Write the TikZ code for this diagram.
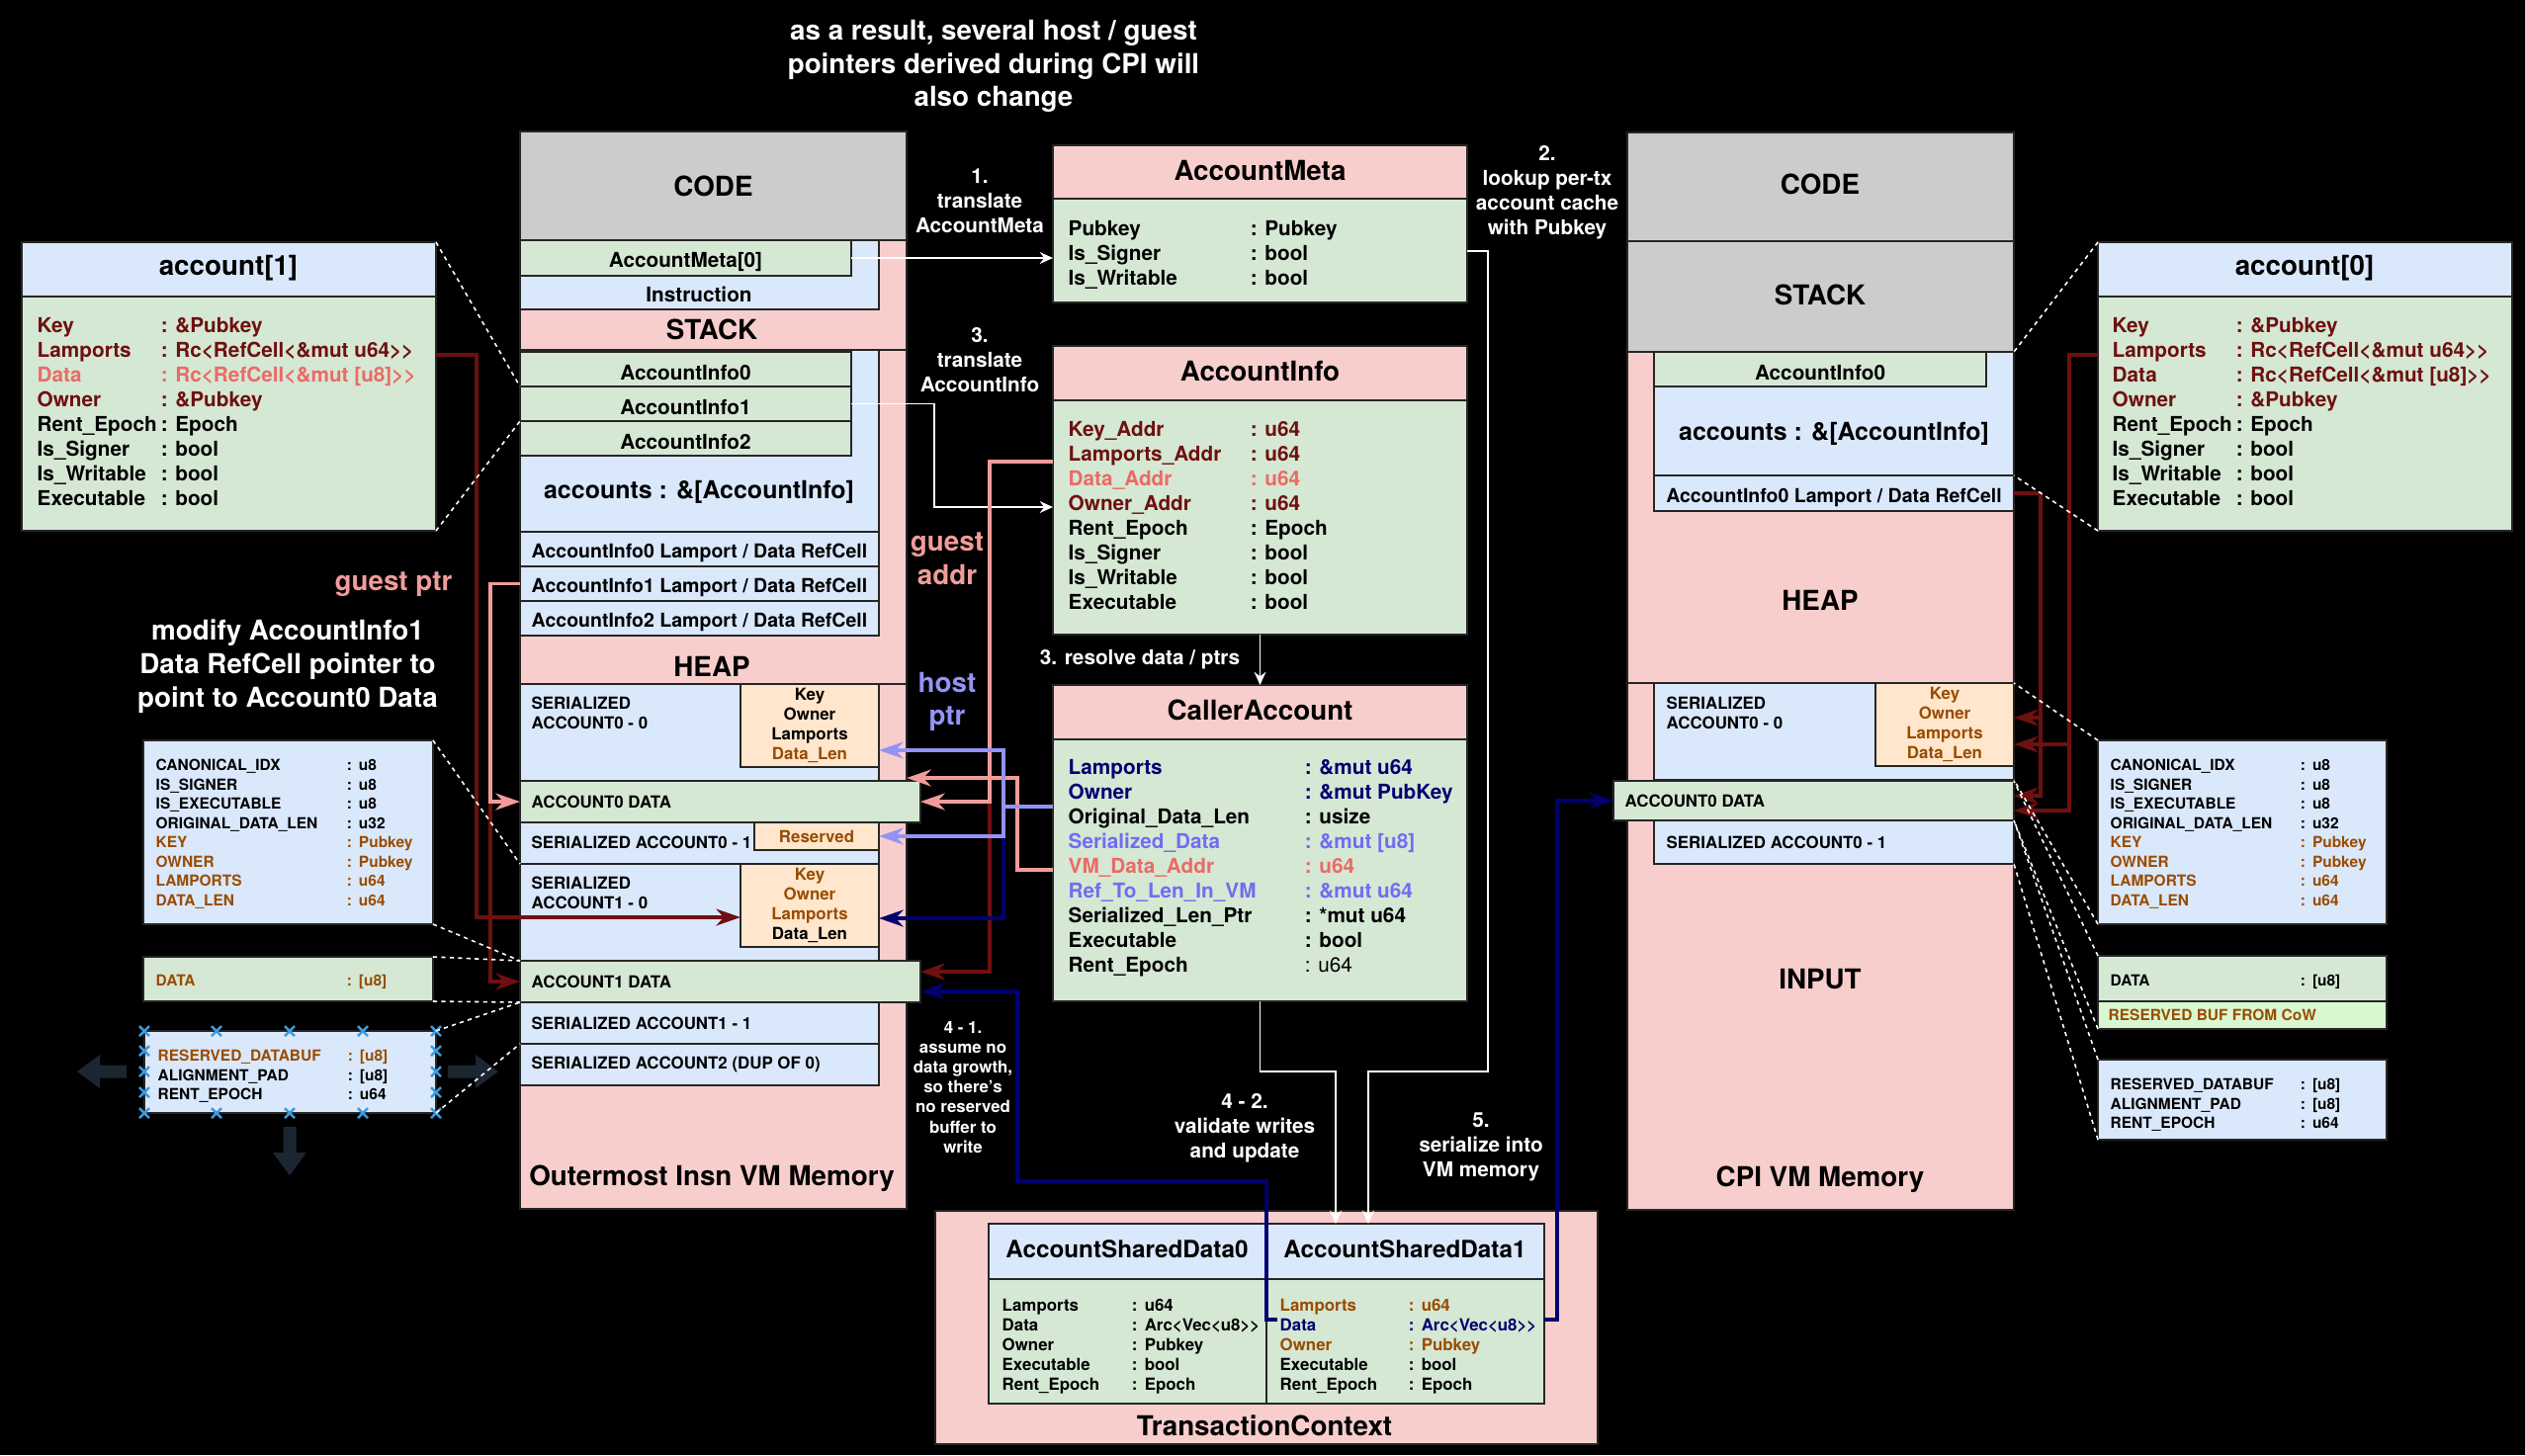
\documentclass[tikz,border=0pt]{standalone}
\usepackage{fontspec}
\usepackage{array}
\setmainfont{TeX Gyre Heros}
\usetikzlibrary{calc,fit,positioning,arrows.meta}
\definecolor{grayF}{HTML}{CCCCCC}
\definecolor{pinkF}{HTML}{F8CECC}
\definecolor{blueF}{HTML}{DAE8FC}
\definecolor{greenF}{HTML}{D5E8D4}
\definecolor{orangeF}{HTML}{FFE6CC}
\definecolor{cowF}{HTML}{D9F8D1}
\definecolor{drk}{HTML}{6F1010}
\definecolor{gst}{HTML}{F19C99}
\definecolor{gsttxt}{HTML}{EA6B66}
\definecolor{hst}{HTML}{9393F7}
\definecolor{hsttxt}{HTML}{6E6EF2}
\definecolor{nvy}{HTML}{000070}
\definecolor{brn}{HTML}{994C00}
\definecolor{hint}{HTML}{1B2631}
\definecolor{xmark}{HTML}{3D9BE0}

\begin{document}
\begin{tikzpicture}[
  x=0.01cm, y=-0.01cm,
  blk/.style={draw=black!85, line width=0.5pt, inner sep=0pt, outer sep=0pt},
  ttl/.style={font=\fontsize{7.9}{9.5}\selectfont\bfseries, inner sep=0pt},
  fld/.style={font=\fontsize{5.9}{7.1}\selectfont\bfseries, inner sep=0pt},
  rcl/.style={font=\fontsize{5.55}{6.7}\selectfont\bfseries, inner sep=0pt},
  sml/.style={font=\fontsize{4.8}{5.7}\selectfont\bfseries, inner sep=0pt},
  tny/.style={font=\fontsize{4.4}{5.55}\selectfont\bfseries, inner sep=0pt},
  note/.style={text=white, align=center, font=\fontsize{5.9}{7.1}\selectfont\bfseries, inner sep=0pt},
  big/.style={align=center, font=\fontsize{7.9}{9.6}\selectfont\bfseries, inner sep=0pt},
  wire/.style={draw=white, line width=0.45pt, -{Stealth[length=3.8pt,width=3.4pt,inset=1.3pt]}},
  ptr/.style={line width=1.1pt, -{Stealth[length=7pt,width=4.8pt,inset=2.2pt]}},
  zoomln/.style={draw=white, line width=0.45pt, dash pattern=on 1.2pt off 1.2pt},
  xm/.style={draw=xmark, line width=0.7pt}
]
  \fill[black] (0,0) rectangle (2554,1472);
  \useasboundingbox (0,0) rectangle (2554,1472);

  \node[big,text=white] (topnote) at (1005,67) {as a result, several host / guest\\pointers derived during CPI will\\also change};

  % outermost instruction memory
  \node[blk,fill=grayF,fit={(526,133)(917,243)}] (oCode) {};
  \node[ttl] (oCodeT) at (oCode.center) {CODE};
  \node[blk,fill=pinkF,fit={(526,243)(917,354)}] (oStack) {};
  \node[blk,fill=blueF,fit={(526,243)(889,313)}] (oInstr) {};
  \node[blk,fill=greenF,fit={(526,243)(861,279)}] (oMeta0) {};
  \node[fld] (oMeta0T) at ($(oMeta0.center)+(0,4)$) {AccountMeta[0]};
  \node[fld] (oInstrT) at (707,298) {Instruction};
  \node[ttl] (oStackT) at (720,333) {STACK};
  \node[blk,fill=pinkF,fit={(526,354)(917,692)}] (oHeap) {};
  \node[blk,fill=blueF,fit={(526,354)(889,538)}] (oAccs) {};
  \node[blk,fill=greenF,fit={(526,356)(861,391)}] (oInfo0) {};
  \node[blk,fill=greenF,fit={(526,391)(861,426)}] (oInfo1) {};
  \node[blk,fill=greenF,fit={(526,426)(861,461)}] (oInfo2) {};
  \node[fld] (oInfo0T) at ($(oInfo0.center)+(0,4)$) {AccountInfo0};
  \node[fld] (oInfo1T) at ($(oInfo1.center)+(0,4)$) {AccountInfo1};
  \node[fld] (oInfo2T) at ($(oInfo2.center)+(0,4)$) {AccountInfo2};
  \node[font=\fontsize{7.1}{8.5}\selectfont\bfseries] (oAccsT) at (707,498) {accounts : \&[AccountInfo]};
  \node[blk,fill=blueF,fit={(526,538)(889,573)}] (oRc0) {};
  \node[blk,fill=blueF,fit={(526,573)(889,608)}] (oRc1) {};
  \node[blk,fill=blueF,fit={(526,608)(889,643)}] (oRc2) {};
  \node[rcl] (oRc0T) at ($(oRc0.center)+(0,4)$) {AccountInfo0 Lamport / Data RefCell};
  \node[rcl] (oRc1T) at ($(oRc1.center)+(0,4)$) {AccountInfo1 Lamport / Data RefCell};
  \node[rcl] (oRc2T) at ($(oRc2.center)+(0,4)$) {AccountInfo2 Lamport / Data RefCell};
  \node[ttl] (oHeapT) at (720,674) {HEAP};
  \node[blk,fill=pinkF,fit={(526,692)(917,1223)}] (oInput) {};
  \node[blk,fill=blueF,fit={(526,692)(889,790)}] (oSer00) {};
  \node[blk,fill=orangeF,fit={(749,692)(889,776)}] (oKey00) {};
  \node[sml,align=center] (oKey00T) at (oKey00.center) {Key\\Owner\\Lamports\\\textcolor{brn}{Data\_Len}};
  \node[sml,anchor=west,align=left] (oSer00T) at (537,721) {SERIALIZED\\ACCOUNT0 - 0};
  \node[blk,fill=greenF,fit={(526,790)(931,832)}] (oData0) {};
  \node[sml,anchor=west] (oData0T) at (537,811) {ACCOUNT0 DATA};
  \node[blk,fill=blueF,fit={(526,832)(889,874)}] (oSer01) {};
  \node[blk,fill=orangeF,fit={(763,832)(889,860)}] (oRes01) {};
  \node[sml,text=brn] (oRes01T) at (oRes01.center) {Reserved};
  \node[sml,anchor=west] (oSer01T) at (537,852) {SERIALIZED ACCOUNT0 - 1};
  \node[blk,fill=blueF,fit={(526,874)(889,972)}] (oSer10) {};
  \node[blk,fill=orangeF,fit={(749,874)(889,958)}] (oKey10) {};
  \node[sml,align=center,text=brn] (oKey10T) at (oKey10.center) {Key\\Owner\\Lamports\\\textcolor{black}{Data\_Len}};
  \node[sml,anchor=west,align=left] (oSer10T) at (537,903) {SERIALIZED\\ACCOUNT1 - 0};
  \node[blk,fill=greenF,fit={(526,972)(931,1014)}] (oData1) {};
  \node[sml,anchor=west] (oData1T) at (537,993) {ACCOUNT1 DATA};
  \node[blk,fill=blueF,fit={(526,1014)(889,1056)}] (oSer11) {};
  \node[sml,anchor=west] (oSer11T) at (537,1035) {SERIALIZED ACCOUNT1 - 1};
  \node[blk,fill=blueF,fit={(526,1056)(889,1098)}] (oSer2) {};
  \node[sml,anchor=west] (oSer2T) at (537,1077) {SERIALIZED ACCOUNT2 (DUP OF 0)};
  \node[ttl] (oInputT) at (720,1192) {Outermost Insn VM Memory};

  % CPI memory
  \node[blk,fill=grayF,fit={(1646,134)(2037,244)}] (cCode) {};
  \node[ttl] (cCodeT) at (1841,186) {CODE};
  \node[blk,fill=grayF,fit={(1646,244)(2037,356)}] (cStack) {};
  \node[ttl] (cStackT) at (1841,298) {STACK};
  \node[blk,fill=pinkF,fit={(1646,356)(2037,691)}] (cHeap) {};
  \node[blk,fill=blueF,fit={(1673,356)(2037,481)}] (cAccs) {};
  \node[blk,fill=greenF,fit={(1673,356)(2009,391)}] (cInfo0) {};
  \node[fld] (cInfo0T) at ($(cInfo0.center)+(0,4)$) {AccountInfo0};
  \node[font=\fontsize{7.1}{8.5}\selectfont\bfseries] (cAccsT) at (1855,439) {accounts : \&[AccountInfo]};
  \node[blk,fill=blueF,fit={(1673,481)(2037,517)}] (cRc0) {};
  \node[rcl] (cRc0T) at ($(cRc0.center)+(0,4)$) {AccountInfo0 Lamport / Data RefCell};
  \node[ttl] (cHeapT) at (1841,607) {HEAP};
  \node[blk,fill=pinkF,fit={(1646,691)(2037,1224)}] (cInput) {};
  \node[blk,fill=blueF,fit={(1673,691)(2037,789)}] (cSer00) {};
  \node[blk,fill=orangeF,fit={(1897,691)(2037,775)}] (cKey00) {};
  \node[sml,align=center,text=brn] (cKey00T) at (cKey00.center) {Key\\Owner\\Lamports\\Data\_Len};
  \node[sml,anchor=west,align=left] (cSer00T) at (1685,721) {SERIALIZED\\ACCOUNT0 - 0};
  \node[blk,fill=greenF,fit={(1632,790)(2037,830)}] (cData0) {};
  \node[sml,anchor=west] (cData0T) at (1643,810) {ACCOUNT0 DATA};
  \node[blk,fill=blueF,fit={(1673,830)(2037,874)}] (cSer01) {};
  \node[sml,anchor=west] (cSer01T) at (1685,852) {SERIALIZED ACCOUNT0 - 1};
  \node[ttl] (cInputT) at (1841,991) {INPUT};
  \node[ttl] (cMemT) at (1841,1193) {CPI VM Memory};

  % account[1] and its serialized form
  \node[blk,fill=blueF,fit={(22,245)(441,300)}] (a1Head) {};
  \node[ttl] (a1HeadT) at (231,271) {account[1]};
  \node[blk,fill=greenF,fit={(22,300)(441,537)}] (a1Body) {};
  \node[fld,anchor=base west] (a1Rows) at (37,336.5) {\begin{tabular}[t]{@{}>{\leavevmode}p{1.25cm}@{}l@{}}
    \color{drk}Key & \color{drk}: \&Pubkey\\
    \color{drk}Lamports & \color{drk}: Rc<RefCell<\&mut u64>{}>\\
    \color{gsttxt}Data & \color{gsttxt}: Rc<RefCell<\&mut [u8]>{}>\\
    \color{drk}Owner & \color{drk}: \&Pubkey\\
    Rent\_Epoch & : Epoch\\
    Is\_Signer & : bool\\
    Is\_Writable & : bool\\
    Executable & : bool
  \end{tabular}};
  \node[blk,fill=blueF,fit={(145,749)(438,935)}] (lCanon) {};
  \node[tny,anchor=base west] (lCanonRows) at (157,779.6) {\begin{tabular}[t]{@{}>{\leavevmode}p{1.93cm}@{}l@{}}
    CANONICAL\_IDX & :\hskip2pt u8\\
    IS\_SIGNER & :\hskip2pt u8\\
    IS\_EXECUTABLE & :\hskip2pt u8\\
    ORIGINAL\_DATA\_LEN & :\hskip2pt u32\\
    \color{brn}KEY & \color{brn}:\hskip2pt Pubkey\\
    \color{brn}OWNER & \color{brn}:\hskip2pt Pubkey\\
    \color{brn}LAMPORTS & \color{brn}:\hskip2pt u64\\
    \color{brn}DATA\_LEN & \color{brn}:\hskip2pt u64
  \end{tabular}};
  \node[blk,fill=greenF,fit={(145,968)(438,1013)}] (lData) {};
  \node[tny,anchor=base west] (lDataRow) at (157,997.6) {\begin{tabular}[t]{@{}>{\leavevmode}p{1.93cm}@{}l@{}}
    \color{brn}DATA & \color{brn}:\hskip2pt [u8]
  \end{tabular}};
  \node[blk,fill=blueF,fit={(146,1043)(441,1126)}] (lResv) {};
  \node[tny,anchor=base west] (lResvRows) at (159,1073.6) {\begin{tabular}[t]{@{}>{\leavevmode}p{1.92cm}@{}l@{}}
    \color{brn}RESERVED\_DATABUF & \color{brn}:\hskip2pt [u8]\\
    ALIGNMENT\_PAD & :\hskip2pt [u8]\\
    RENT\_EPOCH & :\hskip2pt u64
  \end{tabular}};
  \foreach \x in {146,219,293,367,441}
    \foreach \y in {1043,1126}
      \draw[xm] (\x-5,\y-5) -- (\x+5,\y+5) (\x-5,\y+5) -- (\x+5,\y-5);
  \foreach \x in {146,441}
    \foreach \y in {1063,1084,1105}
      \draw[xm] (\x-5,\y-5) -- (\x+5,\y+5) (\x-5,\y+5) -- (\x+5,\y-5);
  \fill[hint] (128,1077.5) -- (101,1077.5) -- (101,1067) -- (78,1084) -- (101,1101) -- (101,1090.5) -- (128,1090.5) -- cycle;
  \fill[hint] (453,1077.5) -- (481,1077.5) -- (481,1067) -- (504,1084) -- (481,1101) -- (481,1090.5) -- (453,1090.5) -- cycle;
  \fill[hint] (286.5,1140) -- (286.5,1166) -- (276,1166) -- (293,1189) -- (310,1166) -- (299.5,1166) -- (299.5,1140) -- cycle;

  % account[0] and its serialized form
  \node[blk,fill=blueF,fit={(2122,245)(2541,300)}] (a0Head) {};
  \node[ttl] (a0HeadT) at (2331,271) {account[0]};
  \node[blk,fill=greenF,fit={(2122,300)(2541,537)}] (a0Body) {};
  \node[fld,anchor=base west] (a0Rows) at (2136,336.5) {\begin{tabular}[t]{@{}>{\leavevmode}p{1.25cm}@{}l@{}}
    \color{drk}Key & \color{drk}: \&Pubkey\\
    \color{drk}Lamports & \color{drk}: Rc<RefCell<\&mut u64>{}>\\
    \color{drk}Data & \color{drk}: Rc<RefCell<\&mut [u8]>{}>\\
    \color{drk}Owner & \color{drk}: \&Pubkey\\
    Rent\_Epoch & : Epoch\\
    Is\_Signer & : bool\\
    Is\_Writable & : bool\\
    Executable & : bool
  \end{tabular}};
  \node[blk,fill=blueF,fit={(2122,749)(2414,935)}] (rCanon) {};
  \node[tny,anchor=base west] (rCanonRows) at (2134,779.6) {\begin{tabular}[t]{@{}>{\leavevmode}p{1.92cm}@{}l@{}}
    CANONICAL\_IDX & :\hskip2pt u8\\
    IS\_SIGNER & :\hskip2pt u8\\
    IS\_EXECUTABLE & :\hskip2pt u8\\
    ORIGINAL\_DATA\_LEN & :\hskip2pt u32\\
    \color{brn}KEY & \color{brn}:\hskip2pt Pubkey\\
    \color{brn}OWNER & \color{brn}:\hskip2pt Pubkey\\
    \color{brn}LAMPORTS & \color{brn}:\hskip2pt u64\\
    \color{brn}DATA\_LEN & \color{brn}:\hskip2pt u64
  \end{tabular}};
  \node[blk,fill=greenF,fit={(2122,967)(2414,1013)}] (rData) {};
  \node[tny,anchor=base west] (rDataRow) at (2134,997.6) {\begin{tabular}[t]{@{}>{\leavevmode}p{1.92cm}@{}l@{}}
    DATA & :\hskip2pt [u8]
  \end{tabular}};
  \node[blk,fill=cowF,fit={(2122,1013)(2414,1041)}] (rCow) {};
  \node[tny,anchor=west,text=brn] (rCowT) at (2132,1027) {RESERVED BUF FROM CoW};
  \node[blk,fill=blueF,fit={(2122,1072)(2414,1153)}] (rResv) {};
  \node[tny,anchor=base west] (rResvRows) at (2134,1102.6) {\begin{tabular}[t]{@{}>{\leavevmode}p{1.92cm}@{}l@{}}
    RESERVED\_DATABUF & :\hskip2pt [u8]\\
    ALIGNMENT\_PAD & :\hskip2pt [u8]\\
    RENT\_EPOCH & :\hskip2pt u64
  \end{tabular}};

  % host side structures
  \node[blk,fill=pinkF,fit={(1065,147)(1484,201)}] (mHead) {};
  \node[ttl] (mHeadT) at ($(mHead.center)+(0,-2)$) {AccountMeta};
  \node[blk,fill=greenF,fit={(1065,201)(1484,306)}] (mBody) {};
  \node[fld,anchor=base west] (mRows) at (1080,238.5) {\begin{tabular}[t]{@{}>{\leavevmode}p{1.84cm}@{}l@{}}
    Pubkey & : Pubkey\\
    Is\_Signer & : bool\\
    Is\_Writable & : bool
  \end{tabular}};
  \node[blk,fill=pinkF,fit={(1065,350)(1484,405)}] (iHead) {};
  \node[ttl] (iHeadT) at ($(iHead.center)+(0,-2)$) {AccountInfo};
  \node[blk,fill=greenF,fit={(1065,405)(1484,642)}] (iBody) {};
  \node[fld,anchor=base west] (iRows) at (1080,441.5) {\begin{tabular}[t]{@{}>{\leavevmode}p{1.84cm}@{}l@{}}
    \color{drk}Key\_Addr & \color{drk}: u64\\
    \color{drk}Lamports\_Addr & \color{drk}: u64\\
    \color{gsttxt}Data\_Addr & \color{gsttxt}: u64\\
    \color{drk}Owner\_Addr & \color{drk}: u64\\
    Rent\_Epoch & : Epoch\\
    Is\_Signer & : bool\\
    Is\_Writable & : bool\\
    Executable & : bool
  \end{tabular}};
  \node[blk,fill=pinkF,fit={(1065,693)(1484,748)}] (kHead) {};
  \node[ttl] (kHeadT) at ($(kHead.center)+(0,-2)$) {CallerAccount};
  \node[blk,fill=greenF,fit={(1065,748)(1484,1013)}] (kBody) {};
  \node[fld,anchor=base west] (kRows) at (1080,783.5) {\begin{tabular}[t]{@{}>{\leavevmode}p{2.39cm}@{}l@{}}
    \color{nvy}Lamports & \color{nvy}: \&mut u64\\
    \color{nvy}Owner & \color{nvy}: \&mut PubKey\\
    Original\_Data\_Len & : usize\\
    \color{hsttxt}Serialized\_Data & \color{hsttxt}: \&mut [u8]\\
    \color{gsttxt}VM\_Data\_Addr & \color{gsttxt}: u64\\
    \color{hsttxt}Ref\_To\_Len\_In\_VM & \color{hsttxt}: \&mut u64\\
    Serialized\_Len\_Ptr & : *mut u64\\
    Executable & : bool\\
    Rent\_Epoch & \mdseries : u64
  \end{tabular}};
  \node[blk,fill=pinkF,fit={(946,1225)(1616,1461)}] (tx) {};
  \node[ttl] (txT) at (1279,1442) {TransactionContext};
  \node[blk,fill=blueF,fit={(1000,1238)(1281,1294)}] (s0Head) {};
  \node[font=\fontsize{6.9}{8.3}\selectfont\bfseries] (s0HeadT) at (1140,1264) {AccountSharedData0};
  \node[blk,fill=greenF,fit={(1000,1294)(1281,1420)}] (s0Body) {};
  \node[sml,anchor=base west] (s0Rows) at (1013,1326) {\begin{tabular}[t]{@{}>{\leavevmode}p{1.31cm}@{}l@{}}
    Lamports & :\hskip2.1pt u64\\
    Data & :\hskip2.1pt Arc<Vec<u8>{}>\\
    Owner & :\hskip2.1pt Pubkey\\
    Executable & :\hskip2.1pt bool\\
    Rent\_Epoch & :\hskip2.1pt Epoch
  \end{tabular}};
  \node[blk,fill=blueF,fit={(1281,1238)(1562,1294)}] (s1Head) {};
  \node[font=\fontsize{6.9}{8.3}\selectfont\bfseries] (s1HeadT) at (1421,1264) {AccountSharedData1};
  \node[blk,fill=greenF,fit={(1281,1294)(1562,1420)}] (s1Body) {};
  \node[sml,anchor=base west] (s1Rows) at (1294,1326) {\begin{tabular}[t]{@{}>{\leavevmode}p{1.30cm}@{}l@{}}
    \color{brn}Lamports & \color{brn}:\hskip2.1pt u64\\
    \color{nvy}Data & \color{nvy}:\hskip2.1pt Arc<Vec<u8>{}>\\
    \color{brn}Owner & \color{brn}:\hskip2.1pt Pubkey\\
    Executable & :\hskip2.1pt bool\\
    Rent\_Epoch & :\hskip2.1pt Epoch
  \end{tabular}};

  % notes
  \node[note] (n1) at (991,203) {1.\\translate\\AccountMeta};
  \node[note] (n3) at (991,364) {3.\\translate\\AccountInfo};
  \node[note] (n2) at (1565,195) {2.\\lookup per-tx\\account cache\\with Pubkey};
  \node[note] (n3b) at (1153,667) {3. resolve data / ptrs};
  \node[note] (n42) at (1259,1141) {4 - 2.\\validate writes\\and update};
  \node[note] (n5) at (1498,1160) {5.\\serialize into\\VM memory};
  \node[note,font=\fontsize{4.8}{5.7}\selectfont\bfseries] (n41) at (974,1100) {4 - 1.\\assume no\\data growth,\\so there's\\no reserved\\buffer to\\write};
  \node[big,text=gst] (gAddr) at (958,565) {guest\\addr};
  \node[big,text=hst] (hPtr) at (958,710) {host\\ptr};
  \node[big,text=gst] (gPtr) at (398,591) {guest ptr};
  \node[big,text=white] (modNote) at (291,674) {modify AccountInfo1\\Data RefCell pointer to\\point to Account0 Data};

  % connector ends
  \coordinate (a1Lamp) at (441,359);
  \coordinate (a0Lamp) at (2122,359);
  \coordinate (mOut) at (1484,254);
  \coordinate (iOwner) at (1065,513);
  \coordinate (iLamp) at (1065,467);
  \coordinate (kOwner) at (1065,816);
  \coordinate (kVm) at (1065,880);
  \coordinate (s1Data) at (1292,1335);
  \coordinate (s1In1) at (1351,1238);
  \coordinate (s1In2) at (1384,1238);
  \coordinate (oGap) at (917,787);
  \coordinate (oK00in) at (889,759);
  \coordinate (oK10in) at (749,928);
  \coordinate (oK10out) at (889,929);
  \coordinate (oD1a) at (931,983);
  \coordinate (oD1b) at (931,1003);
  \coordinate (cK0a) at (2037,726);
  \coordinate (cK0b) at (2037,753);
  \coordinate (cD0a) at (2037,805);
  \coordinate (cD0b) at (2037,820);

  \draw[wire] (oMeta0.east) -- (oMeta0.east -| mBody.west);
  \draw[wire] (oInfo1.east) -- ++(84,0) |- (iOwner);
  \draw[wire] (iBody.south) -- (kHead.north);
  \draw[wire] (kBody.south) -- ++(0,71) -| (s1In1);
  \draw[wire] (mOut) -- ++(21,0) -- ++(0,830) -| (s1In2);

  \draw[ptr,drk] (a1Lamp) -- ++(41,0) |- (oK10in);
  \draw[ptr,drk] (oRc1.west) -- ++(-30,0) |- (oData1.west);
  \draw[ptr,gst] (oRc1.west) -- ++(-30,0) |- (oData0.west);
  \draw[ptr,drk] (iLamp) -- ++(-64,0) |- (oD1a);
  \draw[ptr,gst] (iLamp) -- ++(-64,0) |- (oData0.east);
  \draw[ptr,gst] (kVm) -- ++(-36,0) |- (oGap);
  \draw[ptr,nvy] (kOwner) -- ++(-50,0) |- (oK10out);
  \draw[ptr,hst] (kOwner) -- ++(-50,0) |- (oK00in);
  \draw[ptr,hst] (kOwner) -- ++(-50,0) |- (oRes01.east);
  \draw[ptr,nvy] (s1Data) -- ++(-11,0) -- ++(0,-140) -- ++(-252,0) |- (oD1b);
  \draw[ptr,nvy] (s1Body.east |- s1Data) -- ++(13,0) |- (cData0.west);
  \draw[ptr,drk] (cRc0.east) -- ++(27,0) |- (cD0a);
  \draw[ptr,drk] (cRc0.east) -- ++(27,0) |- (cK0a);
  \draw[ptr,drk] (a0Lamp) -- ++(-29,0) |- (cD0b);
  \draw[ptr,drk] (a0Lamp) -- ++(-29,0) |- (cK0b);

  \draw[zoomln] (a1Head.north east) -- (oInfo1.north west);
  \draw[zoomln] (a1Body.south east) -- (oInfo1.south west);
  \draw[zoomln] (lCanon.north east) -- (oSer10.north west);
  \draw[zoomln] (lCanon.south east) -- (oSer10.south west);
  \draw[zoomln] (lData.north east) -- (oData1.north west);
  \draw[zoomln] (lData.south east) -- (oData1.south west);
  \draw[zoomln] (lResv.north east) -- (oSer11.north west);
  \draw[zoomln] (lResv.south east) -- (oSer11.south west);
  \draw[zoomln] (a0Head.north west) -- (cAccs.north east);
  \draw[zoomln] (a0Body.south west) -- (cAccs.south east);
  \draw[zoomln] (rCanon.north west) -- (cSer00.north east);
  \draw[zoomln] (rCanon.south west) -- (cSer00.south east);
  \draw[zoomln] (rData.north west) -- (cData0.north east);
  \draw[zoomln] (rCow.south west) -- (cData0.south east);
  \draw[zoomln] (rResv.north west) -- (cSer01.north east);
  \draw[zoomln] (rResv.south west) -- (cSer01.south east);
\end{tikzpicture}
\end{document}
